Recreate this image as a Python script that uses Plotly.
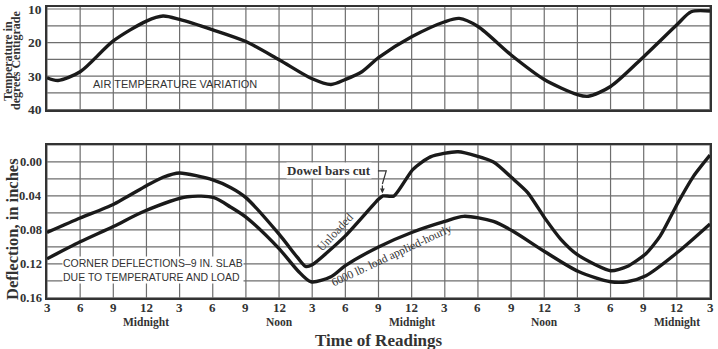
import plotly.graph_objects as go

# ---------------- data ----------------
# hours after 3 p.m. of the first day (tick every 3 hours)
tick_hours = list(range(0, 61, 3))
tick_text = ["3", "6", "9", "12", "3", "6", "9", "12", "3", "6", "9", "12",
             "3", "6", "9", "12", "3", "6", "9", "12", "3"]
day_marks_hours = [9, 21, 33, 45, 57]
day_marks_text = ["Midnight", "Noon", "Midnight", "Noon", "Midnight"]

temp_ticks = [10, 20, 30, 40]
defl_ticks = [0.00, 0.04, 0.08, 0.12, 0.16]
defl_tick_text = ["0.00", "0.04", "0.08", "0.12", "0.16"]

temp_hours = [0, 1, 3, 6, 9, 10.5, 12, 15, 18, 21, 24, 25.7, 27, 28.5, 30, 33,
              36, 37.3, 39, 42, 45, 48, 49, 51, 54, 57, 58.3, 60]
temp_values = [30.5, 31.3, 28.7, 19.5, 13.6, 12.1, 13.1, 16.2, 19.7, 25.1, 30.8,
               32.5, 31.0, 28.7, 24.5, 18.3, 13.8, 12.8, 15.2, 23.7, 31.0, 35.5,
               36.0, 33.1, 24.2, 14.7, 10.8, 10.6]

unloaded_hours = [0, 3, 6, 9, 10.5, 12, 15, 16.6, 18, 21, 22.7, 23.4, 24, 27, 30,
                  30.4, 31.4, 33.1, 34.7, 37.2, 40.4, 42.1, 43.5, 45.1, 46.5,
                  48.1, 51, 52.5, 54.2, 55.5, 57.1, 58.5, 60]
unloaded_defl = [0.083, 0.066, 0.050, 0.028, 0.018, 0.013, 0.021, 0.030, 0.042,
                 0.085, 0.113, 0.123, 0.121, 0.087, 0.044, 0.040, 0.040, 0.009,
                 -0.006, -0.012, 0.000, 0.019, 0.036, 0.067, 0.091, 0.110, 0.128,
                 0.123, 0.108, 0.087, 0.048, 0.017, -0.008]

loaded_hours = [0, 3, 6, 8.8, 12.7, 15.1, 16.6, 18, 21, 22.7, 23.9, 25.7, 27, 30,
                33, 36, 37.7, 40.4, 42.1, 45.1, 48.1, 51, 52.5, 54.2, 57.1, 60]
loaded_defl = [0.114, 0.094, 0.076, 0.058, 0.041, 0.042, 0.053, 0.065, 0.102,
               0.128, 0.141, 0.135, 0.122, 0.100, 0.083, 0.070, 0.064, 0.070,
               0.081, 0.106, 0.129, 0.141, 0.141, 0.134, 0.106, 0.073]

# ---------------- style ----------------
INK = "#1a1a1a"
GRID = "#6e6e6e"
SERIF = "Liberation Serif"
SANS = "Liberation Sans"

fig = go.Figure()

fig.add_trace(go.Scatter(x=temp_hours, y=temp_values, mode="lines",
                         line=dict(color=INK, width=3.4, shape="spline", smoothing=0.8),
                         xaxis="x2", yaxis="y2", hoverinfo="skip", showlegend=False))
fig.add_trace(go.Scatter(x=unloaded_hours, y=unloaded_defl, mode="lines",
                         line=dict(color=INK, width=3.4, shape="spline", smoothing=0.6),
                         xaxis="x", yaxis="y", hoverinfo="skip", showlegend=False))
fig.add_trace(go.Scatter(x=loaded_hours, y=loaded_defl, mode="lines",
                         line=dict(color=INK, width=3.4, shape="spline", smoothing=0.8),
                         xaxis="x", yaxis="y", hoverinfo="skip", showlegend=False))

xcommon = dict(range=[0, 60], showticklabels=False, showgrid=False,
               showline=True, linecolor="#333", linewidth=2, mirror=True,
               ticks="", zeroline=False)

fig.update_layout(
    template="none",
    width=718, height=349,
    margin=dict(l=47, r=8, t=7, b=51),
    paper_bgcolor="white", plot_bgcolor="white",
    showlegend=False,
    xaxis=dict(xcommon, anchor="y"),
    xaxis2=dict(xcommon, anchor="y2"),
    yaxis=dict(domain=[0, 0.526], range=[0.1601, -0.02],
               showticklabels=False, showgrid=False,
               showline=True, linecolor="#333", linewidth=2, mirror=True, ticks="",
               zeroline=False),
    yaxis2=dict(domain=[0.646, 1], range=[40.1, 9.4],
                showticklabels=False, showgrid=False,
                showline=True, linecolor="#333", linewidth=2, mirror=True, ticks="",
                zeroline=False),
)

# ---- grid lines (drawn below the traces, at the tick positions) ----
shapes = []
defl_grid = [-0.02 + 0.02 * i for i in range(10)]
temp_grid = [10 + 5 * i for i in range(7)]
for h in tick_hours:
    for xr, yr in (("x", "y domain"), ("x2", "y2 domain")):
        shapes.append(dict(type="line", xref=xr, yref=yr, x0=h, x1=h, y0=0, y1=1,
                           line=dict(color=GRID, width=1.2), layer="below"))
for v in defl_grid:
    shapes.append(dict(type="line", xref="x domain", yref="y", x0=0, x1=1, y0=v, y1=v,
                       line=dict(color=GRID, width=1.2), layer="below"))
for v in temp_grid:
    shapes.append(dict(type="line", xref="x2 domain", yref="y2", x0=0, x1=1, y0=v, y1=v,
                       line=dict(color=GRID, width=1.2), layer="below"))
# bracket for "Dowel bars cut"
shapes.append(dict(type="path", xref="x", yref="y",
                   path="M 29.95 0.0105 L 30.7 0.0105 L 30.35 0.026",
                   line=dict(color="#333", width=1.2)))

ann = []
TICKFONT = dict(family=SERIF, size=13, color="#333", weight="bold")
# x tick labels
for h, t in zip(tick_hours, tick_text):
    ann.append(dict(x=h, y=-0.031, xref="x", yref="paper", text=t, showarrow=False,
                    font=TICKFONT, xanchor="center", yanchor="middle"))
# y tick labels (deflection)
for v, t in zip(defl_ticks, defl_tick_text):
    ann.append(dict(x=-0.004, y=v, xref="paper", yref="y", text=t, showarrow=False,
                    font=dict(family=SERIF, size=12.5, color="#333", weight="bold"),
                    xanchor="right", yanchor="middle"))
# y tick labels (temperature)
for v in temp_ticks:
    ann.append(dict(x=-0.004, y=v, xref="paper", yref="y2", text=str(v), showarrow=False,
                    font=dict(family=SERIF, size=13.5, color="#333", weight="bold"),
                    xanchor="right", yanchor="middle"))
# Midnight / Noon labels
for h, t in zip(day_marks_hours, day_marks_text):
    ann.append(dict(x=h, y=-0.083, xref="x", yref="paper", text=t, showarrow=False,
                    font=dict(family=SERIF, size=11.5, color="#333", weight="bold"),
                    xanchor="center", yanchor="middle"))
# axis titles
ann.append(dict(x=0.5, y=-0.146, xref="paper", yref="paper", text="Time of Readings",
                showarrow=False, font=dict(family=SERIF, size=17, color="#333", weight="bold"),
                xanchor="center", yanchor="middle"))
ann.append(dict(x=-35 / 663, y=(298 - 229) / 291, xref="paper", yref="paper",
                text="Deflection, in inches", textangle=-90, showarrow=False,
                font=dict(family=SERIF, size=16.5, color="#333", weight="bold"),
                xanchor="center", yanchor="middle"))
ann.append(dict(x=-39 / 663, y=(298 - 61) / 291, xref="paper", yref="paper",
                text="Temperature in", textangle=-90, showarrow=False,
                font=dict(family=SERIF, size=12, color="#333", weight="bold"),
                xanchor="center", yanchor="middle"))
ann.append(dict(x=-31 / 663, y=(298 - 61) / 291, xref="paper", yref="paper",
                text="degrees Centigrade", textangle=-90, showarrow=False,
                font=dict(family=SERIF, size=12, color="#333", weight="bold"),
                xanchor="center", yanchor="middle"))
# in-plot labels
ann.append(dict(x=11.6, y=32.4, xref="x2", yref="y2", text="AIR TEMPERATURE VARIATION",
                showarrow=False, font=dict(family=SANS, size=11, color="#333"),
                xanchor="center", yanchor="middle"))
ann.append(dict(x=1.4, y=0.127, xref="x", yref="y",
                text="CORNER DEFLECTIONS\u20139 IN. SLAB<br>DUE TO TEMPERATURE AND LOAD",
                align="left", showarrow=False, font=dict(family=SANS, size=10.5, color="#333"),
                xanchor="left", yanchor="middle", bgcolor="white", borderpad=0))
ann.append(dict(x=25.5, y=0.0095, xref="x", yref="y", text="Dowel bars cut",
                showarrow=False, font=dict(family=SERIF, size=13, color="#333", weight="bold"),
                xanchor="center", yanchor="middle", bgcolor="white", borderpad=0))
ann.append(dict(x=26.1, y=0.083, xref="x", yref="y", text="Unloaded", textangle=-47,
                showarrow=False, font=dict(family=SERIF, size=12, color="#444"),
                xanchor="center", yanchor="middle"))
ann.append(dict(x=31.2, y=0.110, xref="x", yref="y", text="6000 lb. load applied-hourly",
                textangle=-25, showarrow=False, font=dict(family=SERIF, size=11.5, color="#333"),
                xanchor="center", yanchor="middle"))
# arrow for "Dowel bars cut"
ann.append(dict(x=30.35, y=0.037, ax=30.35, ay=0.026, xref="x", yref="y", axref="x", ayref="y",
                text="", showarrow=True, arrowhead=2, arrowsize=0.8, arrowwidth=1.2,
                arrowcolor="#333"))

fig.update_layout(annotations=ann, shapes=shapes)

fig.write_html("out.html")
